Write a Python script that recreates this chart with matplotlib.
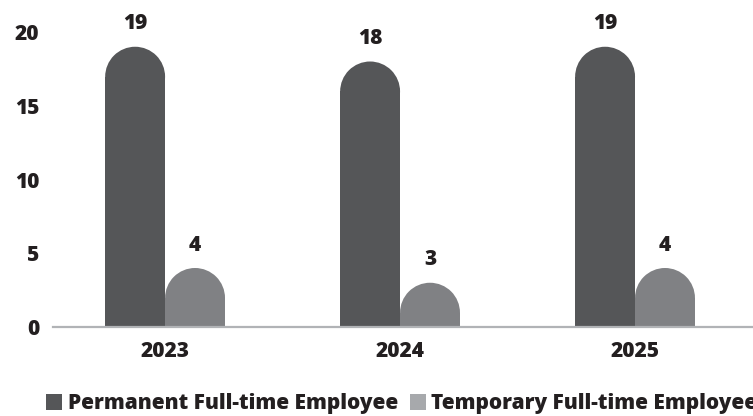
import matplotlib
matplotlib.use("Agg")
import matplotlib.pyplot as plt
from matplotlib.patches import Ellipse, Patch

plt.rcParams['font.family'] = ['Open Sans', 'DejaVu Sans']

# Data
years = ["2023", "2024", "2025"]
permanent = [19, 18, 19]
temporary = [4, 3, 4]
series_names = ["Permanent Full-time Employee", "Temporary Full-time Employee"]
y_ticks = [0, 5, 10, 15, 20]

dark = "#555658"
mid = "#808184"
light_swatch = "#a7a9ac"
text_col = "#231f20"
axis_col = "#b1b3b6"
weight = 800
fs = 15

W, H, DPI = 753, 416, 100
fig = plt.figure(figsize=(W / DPI, H / DPI), dpi=DPI)
ax = fig.add_axes([53 / W, 89 / H, 700 / W, (327 - 32) / H])

xs = list(range(len(years)))
bar_w = 0.255
ax.set_xlim(-0.477, 2.502)
ax.set_ylim(0, 20)

# radius of the rounded cap in data units (half the bar width on screen)
fig.canvas.draw()
p0 = ax.transData.transform((0, 0))
p1 = ax.transData.transform((bar_w, 1))
bar_px = p1[0] - p0[0]
unit_px = p1[1] - p0[1]
ry = (bar_px / 2) / unit_px


def rounded_bars(xpos, vals, color):
    for x, v in zip(xpos, vals):
        ax.bar(x, max(v - ry, 0), width=bar_w, color=color, linewidth=0, zorder=2)
        ax.add_patch(Ellipse((x, v - ry), bar_w, 2 * ry, facecolor=color,
                             edgecolor='none', zorder=2))
        ax.annotate(str(v), xy=(x, v), xytext=(0, 16.5), textcoords='offset points',
                    ha='center', va='center', fontsize=fs, fontweight=weight,
                    color=text_col, annotation_clip=False)


rounded_bars([x - bar_w / 2 for x in xs], permanent, dark)
rounded_bars([x + bar_w / 2 for x in xs], temporary, mid)

for s in ['top', 'right', 'left']:
    ax.spines[s].set_visible(False)
ax.spines['bottom'].set_color(axis_col)
ax.spines['bottom'].set_linewidth(1.6)
ax.spines['bottom'].set_zorder(3)

ax.set_yticks(y_ticks)
ax.set_yticklabels([str(t) for t in y_ticks])
ax.set_xticks(xs)
ax.set_xticklabels(years)
ax.tick_params(axis='y', length=0, pad=10, labelsize=fs, labelcolor=text_col)
ax.tick_params(axis='x', length=0, pad=10, labelsize=fs, labelcolor=text_col)
for lab in ax.get_xticklabels() + ax.get_yticklabels():
    lab.set_fontweight(weight)

handles = [Patch(facecolor=dark, edgecolor='none'),
           Patch(facecolor=light_swatch, edgecolor='none')]
fig.legend(handles, series_names, loc='lower left', bbox_to_anchor=(46 / W, 0.004),
           ncol=2, frameon=False, borderpad=0, borderaxespad=0,
           handlelength=0.77, handleheight=0.77, handletextpad=0.28,
           columnspacing=0.55, prop={'size': fs, 'weight': weight},
           labelcolor=text_col)

fig.savefig("out.png", dpi=DPI)
